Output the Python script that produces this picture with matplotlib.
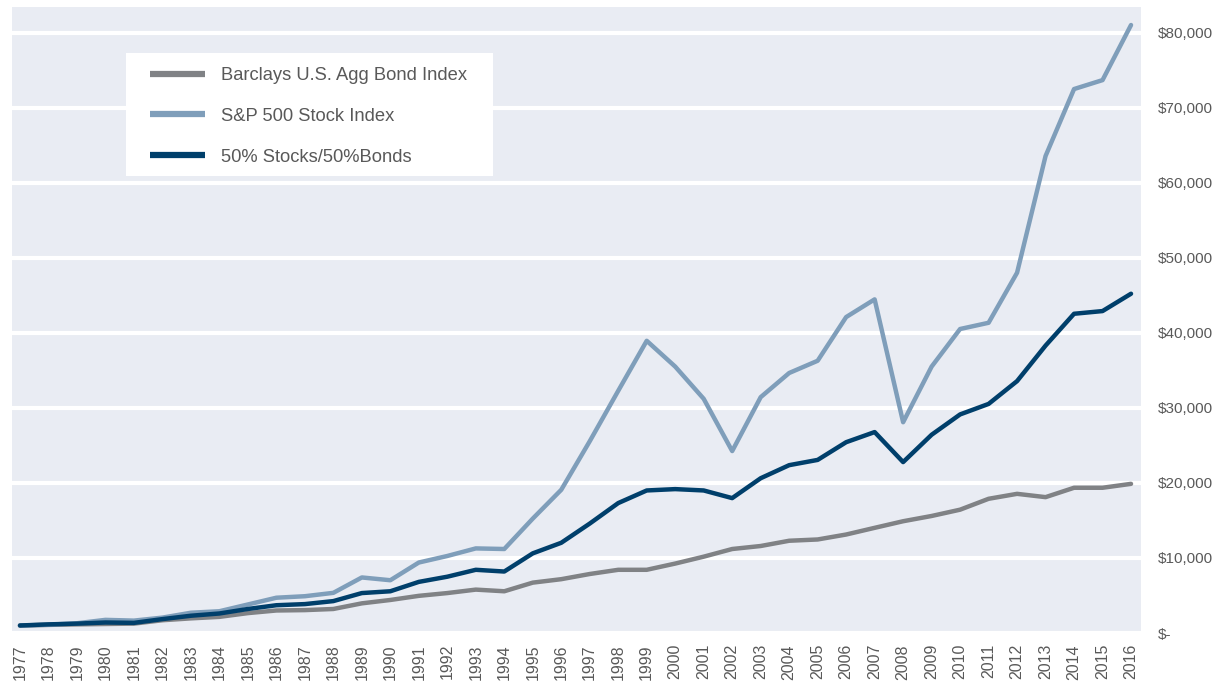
import matplotlib
matplotlib.use("Agg")
import matplotlib.pyplot as plt
from matplotlib.patches import Rectangle
from matplotlib.ticker import FuncFormatter

years = list(range(1977, 2017))

bond = [1000, 1080, 1150, 1200, 1250, 1700, 1950, 2150, 2650, 3000,
        3050, 3200, 3950, 4400, 4950, 5320, 5780, 5560, 6710, 7170,
        7860, 8420, 8420, 9250, 10170, 11190, 11590, 12290, 12460, 13120,
        14010, 14890, 15590, 16430, 17880, 18540, 18100, 19350, 19350, 19870]

sp500 = [1000, 1100, 1300, 1750, 1650, 2050, 2700, 2900, 3800, 4700,
         4900, 5350, 7400, 7030, 9390, 10260, 11270, 11190, 15240, 19080,
         25550, 32270, 38930, 35490, 31200, 24240, 31420, 34640, 36270, 42090,
         44450, 28080, 35490, 40500, 41330, 48000, 63550, 72470, 73660, 81000]

mix = [1000, 1150, 1250, 1400, 1350, 1850, 2300, 2600, 3200, 3700,
       3850, 4250, 5320, 5560, 6810, 7500, 8420, 8190, 10610, 12020,
       14580, 17310, 18990, 19170, 18990, 17970, 20620, 22360, 23060, 25420,
       26770, 22770, 26410, 29120, 30520, 33560, 38290, 42530, 42890, 45200]

series_names = ["Barclays U.S. Agg Bond Index", "S&P 500 Stock Index", "50% Stocks/50%Bonds"]
series_colors = ["#808285", "#7F9EBA", "#003F6B"]
y_ticks = list(range(0, 80001, 10000))

W, H = 1219, 683
fig = plt.figure(figsize=(W / 100, H / 100), dpi=100)
ax = fig.add_axes([12 / W, (H - 633) / H, (1141 - 12) / W, (633 - 7) / H])
ax.set_facecolor("#E9ECF3")
for s in ax.spines.values():
    s.set_visible(False)

for vals, name, col in zip([bond, sp500, mix], series_names, series_colors):
    ax.plot(years, vals, color=col, lw=3.2, label=name, solid_capstyle="round", zorder=3)

ax.set_xlim(1977 - 0.28, 2016 + 0.35)
ax.set_ylim(0, 83400)
ax.set_yticks(y_ticks)
ax.yaxis.tick_right()
ax.yaxis.set_major_formatter(FuncFormatter(lambda v, p: "$-" if v == 0 else "${:,.0f}".format(v)))
ax.grid(axis="y", color="white", lw=3)
ax.set_axisbelow(True)
ax.set_xticks(years)
ax.set_xticklabels([str(y) for y in years], rotation=90)
ax.tick_params(axis="x", length=0, pad=8, labelsize=11.5, labelcolor="#595959")
ax.tick_params(axis="y", length=0, pad=12, labelsize=11, labelcolor="#595959")
for lab in ax.get_xticklabels() + ax.get_yticklabels():
    lab.set_fontfamily("Liberation Sans")
for lab in ax.get_yticklabels():
    lab.set_va("bottom")
    lab.set_y(lab.get_position()[1])
ax.yaxis.set_tick_params(pad=12)
for t in ax.yaxis.get_major_ticks():
    t.label2.set_verticalalignment("center_baseline")

# legend box
fig.patches.append(Rectangle((126 / W, 1 - 176 / H), (493 - 126) / W, (176 - 53) / H,
                             transform=fig.transFigure, facecolor="white", edgecolor="none", zorder=4))
leg = fig.legend(loc="upper left", bbox_to_anchor=(150 / W, 1 - 67 / H), frameon=False,
                 borderpad=0, borderaxespad=0, handlelength=3.0, handletextpad=0.88,
                 labelspacing=1.3, prop={"family": "Liberation Sans", "size": 13.2})
leg.set_zorder(5)
for t in leg.get_texts():
    t.set_color("#595959")
for l in leg.get_lines():
    l.set_linewidth(4.5)
    l.set_solid_capstyle("butt")

fig.savefig("out.png", dpi=100)
